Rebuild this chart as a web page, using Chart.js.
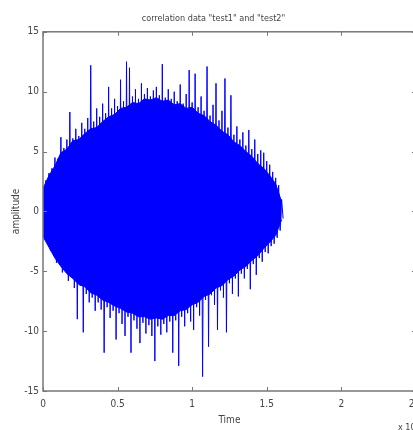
<!DOCTYPE html>
<html>
<head>
<meta charset="utf-8">
<script src="https://cdn.jsdelivr.net/npm/chart.js@4"></script>
<style>
html,body{margin:0;padding:0;background:#fff;overflow:hidden;width:413px;height:430px}
#wrap{width:430px;height:430px}
</style>
</head>
<body>
<div id="wrap"><canvas id="c" width="430" height="430"></canvas></div>
<script>
// per-sample peaks, one pair every 0.02 (x 10^4) of time
const step = 0.02;
const hiPeaks = [1.8,2.6,3.2,3.6,4.5,4.4,6.2,5.3,6.0,8.3,
  6.1,6.9,6.3,7.4,6.9,7.8,12.2,7.5,8.6,7.9,
  9.0,8.2,10.4,8.6,9.4,8.8,11.0,9.2,12.5,12.0,
  9.6,10.2,9.4,10.7,9.8,10.3,9.6,10.1,10.4,9.7,
  12.3,9.5,10.2,9.4,10.0,9.2,10.6,9.0,9.8,11.8,
  9.1,11.5,8.7,9.6,8.4,12.1,8.0,8.9,10.7,7.6,
  8.4,11.1,7.0,9.7,6.4,7.1,6.0,6.6,5.5,6.8,
  5.2,6.0,4.8,5.1,4.9,4.2,3.9,3.3,2.8,2.2,1.0];
const loPeaks = [-2.1,-2.6,-3.3,-3.4,-4.3,-4.2,-5.1,-4.9,-5.8,-5.5,
  -6.4,-9.0,-6.2,-10.1,-6.9,-7.6,-7.2,-8.3,-7.6,-8.2,
  -11.8,-8.0,-8.9,-8.3,-10.7,-8.5,-9.4,-10.4,-8.8,-11.8,
  -9.1,-9.8,-11.0,-9.3,-10.2,-9.5,-10.4,-12.5,-9.6,-10.3,
  -9.4,-10.1,-9.2,-11.8,-9.1,-12.9,-8.8,-9.6,-8.5,-9.2,
  -9.9,-8.0,-8.7,-13.8,-7.4,-11.3,-7.0,-7.8,-9.9,-6.6,
  -7.2,-10.1,-6.0,-6.9,-5.6,-7.1,-5.2,-5.6,-4.8,-6.5,
  -4.4,-5.3,-3.9,-4.2,-3.4,-3.5,-2.9,-2.7,-2.2,-1.6,-0.6];
// dense core of the signal, every 0.04
const coreStep = 0.04;
const coreTop = [1.9,3.0,3.8,4.9,5.2,5.9,6.0,6.5,6.9,7.0,
  7.5,7.9,8.1,8.6,8.7,9.1,9.0,9.4,9.3,9.5,
  9.2,9.3,8.9,9.0,8.6,8.7,8.2,8.0,7.5,7.2,
  6.7,6.4,5.8,5.5,5.0,4.6,4.0,3.6,3.0,2.3,0.8];
const coreBot = [-2.1,-3.0,-3.9,-4.6,-5.2,-5.6,-6.1,-6.3,-6.8,-7.0,
  -7.4,-7.6,-7.9,-8.1,-8.4,-8.5,-8.8,-8.8,-9.0,-8.9,
  -9.0,-8.7,-8.7,-8.3,-8.2,-7.8,-7.6,-7.1,-6.9,-6.4,
  -6.2,-5.7,-5.4,-4.9,-4.6,-4.1,-3.7,-3.1,-2.6,-2.0,-0.7];
const xTicks = [0,0.5,1,1.5,2,2.5];
const yTicks = [-15,-10,-5,0,5,10,15];

let pts=[];
hiPeaks.forEach((v,i)=>{
    pts.push({x:i*step, y:v});
    pts.push({x:i*step+step/2, y:loPeaks[i]});
});
let topPts=coreTop.map((v,i)=>({x:i*coreStep,y:v}));
let botPts=coreBot.map((v,i)=>({x:i*coreStep,y:v}));

const FONT="'Liberation Sans Narrow','DejaVu Sans Condensed','Liberation Sans',sans-serif";
const TXT='#444', AX='#777', BLUE='#0000ff';

// matlab style box with inward ticks
const boxTicks = {
    id:'boxTicks',
    afterDraw(ch){
        let c=ch.ctx, a=ch.chartArea, sx=ch.scales.x, sy=ch.scales.y, L=4;
        c.save();
        c.strokeStyle=AX; c.lineWidth=1.5;
        c.strokeRect(a.left,a.top,a.right-a.left,a.bottom-a.top);
        c.lineWidth=1;
        c.beginPath();
        xTicks.forEach(v=>{ let p=Math.round(sx.getPixelForValue(v))+0.5;
            c.moveTo(p,a.bottom); c.lineTo(p,a.bottom-L);
            c.moveTo(p,a.top); c.lineTo(p,a.top+L); });
        yTicks.forEach(v=>{ let p=Math.round(sy.getPixelForValue(v))+0.5;
            c.moveTo(a.left,p); c.lineTo(a.left+L,p);
            c.moveTo(a.right,p); c.lineTo(a.right-L,p); });
        c.stroke();
        c.fillStyle=TXT; c.font='9px '+FONT; c.textBaseline='alphabetic';
        c.fillText('x 10',398,430);
        c.font='6px '+FONT; c.fillText('4',415,425);
        c.restore();
    }
};

new Chart(document.getElementById('c'),{
    type:'line',
    data:{datasets:[
        {data:pts,borderColor:BLUE,borderWidth:1,pointRadius:0,tension:0,fill:false,order:2},
        {data:topPts,borderColor:BLUE,backgroundColor:BLUE,borderWidth:1,pointRadius:0,tension:0,fill:'+1',order:1},
        {data:botPts,borderColor:BLUE,borderWidth:1,pointRadius:0,tension:0,fill:false,order:1}
    ]},
    options:{
        responsive:false,animation:false,
        layout:{padding:{left:6,right:9,top:0,bottom:0}},
        plugins:{
            legend:{display:false},tooltip:{enabled:false},
            title:{display:true,text:'correlation data "test1" and "test2"',color:TXT,
                font:{family:FONT,size:9,weight:'normal'},padding:{top:13,bottom:8}}
        },
        scales:{
            x:{type:'linear',min:0,max:2.5,
                grid:{display:false,drawTicks:false},border:{display:false},
                afterBuildTicks:s=>{s.ticks=xTicks.map(v=>({value:v}));},
                ticks:{color:TXT,font:{family:FONT,size:10},padding:7,maxRotation:0,autoSkip:false,
                    callback:v=>String(v)},
                title:{display:true,text:'Time',color:TXT,font:{family:FONT,size:10},padding:{top:2,bottom:4}},
                afterFit:s=>{s.height=39;}
            },
            y:{min:-15,max:15,
                grid:{display:false,drawTicks:false},border:{display:false},
                afterBuildTicks:s=>{s.ticks=yTicks.map(v=>({value:v}));},
                ticks:{color:TXT,font:{family:FONT,size:10},padding:4,autoSkip:false},
                title:{display:true,text:'amplitude',color:TXT,font:{family:FONT,size:10},padding:{top:4,bottom:6}},
                afterFit:s=>{s.width=37;}
            }
        }
    },
    plugins:[boxTicks]
});
</script>
</body>
</html>
